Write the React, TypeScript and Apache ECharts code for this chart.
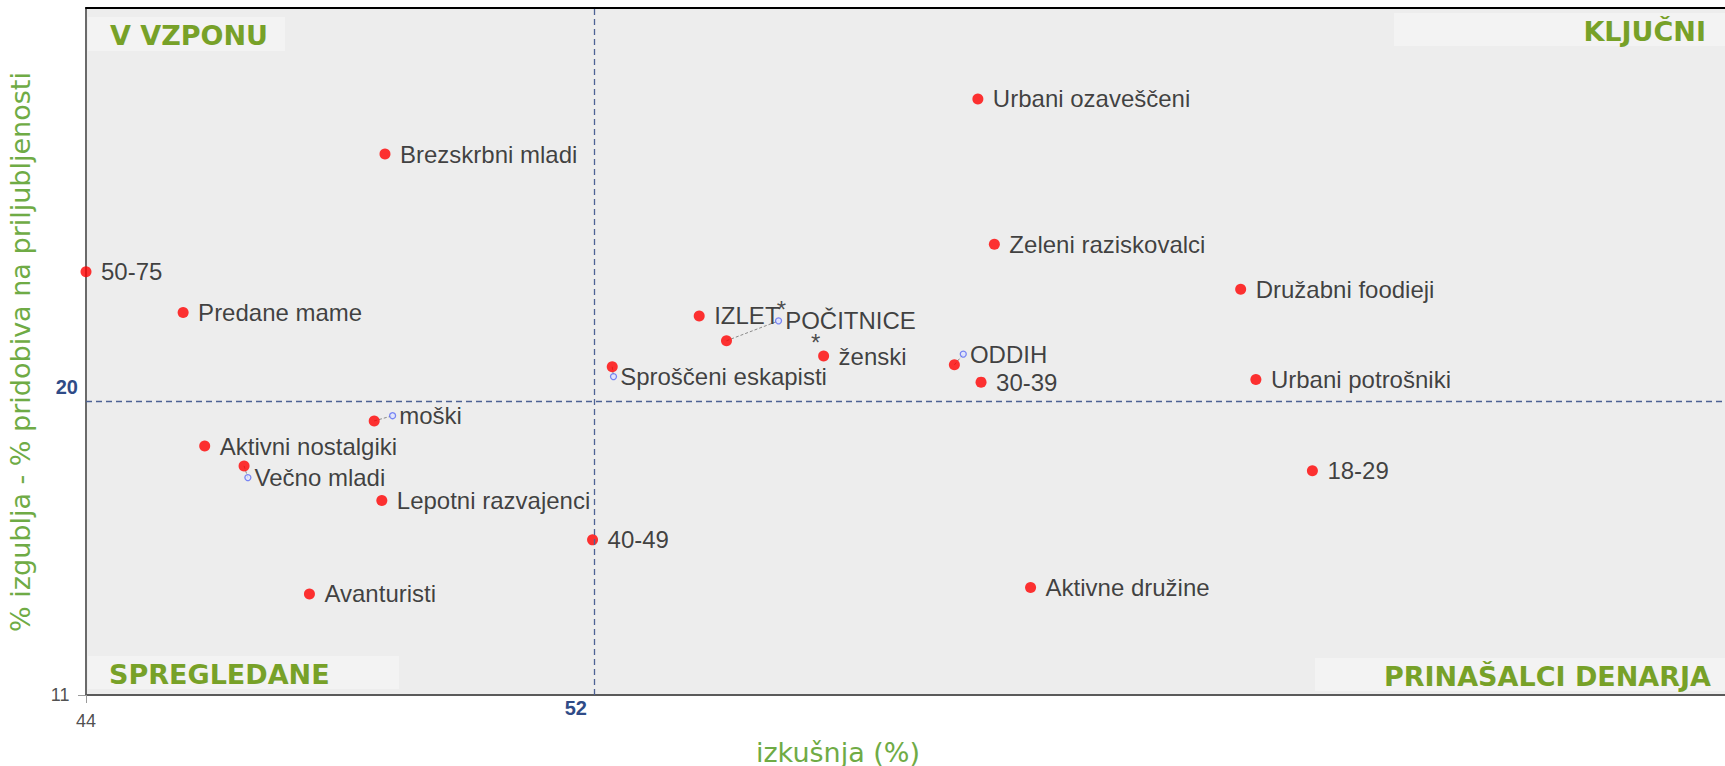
import React, { useEffect, useRef } from "react";
import * as echarts from "echarts";

// ---- data ----
const names = [
  "Urbani ozaveščeni", "Brezskrbni mladi", "Zeleni raziskovalci", "50-75", "Družabni foodieji",
  "Predane mame", "IZLET", "POČITNICE", "ženski", "ODDIH", "Sproščeni eskapisti", "30-39",
  "Urbani potrošniki", "moški", "Aktivni nostalgiki", "Večno mladi", "18-29",
  "Lepotni razvajenci", "40-49", "Aktivne družine", "Avanturisti",
];
const xValues = [
  58.05, 48.71, 58.31, 44.0, 62.19,
  45.53, 53.66, 54.09, 55.62, 57.68, 52.29, 58.1,
  62.43, 48.54, 45.87, 46.49, 63.32,
  48.66, 51.98, 58.88, 47.52,
];
const yValues = [
  29.29, 27.6, 24.83, 23.99, 23.45,
  22.74, 22.63, 21.87, 21.4, 21.13, 21.07, 20.6,
  20.68, 19.41, 18.64, 18.03, 17.88,
  16.97, 15.76, 14.3, 14.1,
];
// labels that are moved away from their point, with a leader line
const anchorNames = ["POČITNICE", "ODDIH", "Sproščeni eskapisti", "moški", "Večno mladi"];
const anchorX = [54.91, 57.82, 52.31, 48.83, 46.55];
const anchorY = [22.48, 21.46, 20.77, 19.57, 17.67];
// significance marks
const starredNames = ["POČITNICE", "ženski"];

const xMin = 44;
const xMax = 69.82;
const yMin = 11;
const yMax = 32.08;
const xMean = 52;
const yMean = 20;

const quadrantNames = ["V VZPONU", "KLJUČNI", "SPREGLEDANE", "PRINAŠALCI DENARJA"];
const xTitle = "izkušnja (%)";
const yTitle = "% izgublja - % pridobiva na priljubljenosti";

const GREEN = "#77a128";
const TITLE_GREEN = "#6fab45";
const BLUE = "#2f4b87";

export default function App() {
  const ref = useRef<HTMLDivElement>(null);

  useEffect(() => {
    if (!ref.current) return;
    const chart = echarts.init(ref.current, undefined, { renderer: "svg" });

    const idx = (n: string) => names.indexOf(n);

    const redData = names.map((n, i) => ({
      name: n,
      value: [xValues[i], yValues[i]],
      label: { show: anchorNames.indexOf(n) < 0 },
    }));
    const anchorData = anchorNames.map((n, i) => ({ name: n, value: [anchorX[i], anchorY[i]] }));
    const leaderData = anchorNames.map((n, i) => ({
      coords: [
        [xValues[idx(n)], yValues[idx(n)]],
        [anchorX[i], anchorY[i]],
      ],
    }));
    const starOffsets: Record<string, number[]> = { "POČITNICE": [3, -11], "ženski": [-8, -14] };
    const starData = starredNames.map((n) => {
      const a = anchorNames.indexOf(n);
      const v = a >= 0 ? [anchorX[a], anchorY[a]] : [xValues[idx(n)], yValues[idx(n)]];
      return { name: n, value: v, label: { offset: starOffsets[n] } };
    });
    // axis-minimum labels (44 on x, 11 on y), anchored at the axes' origin
    const minLabelData = [
      { name: String(xMin), value: [xMin, yMin], label: { position: "bottom", distance: 16 } },
      { name: String(yMin), value: [xMin, yMin], label: { position: "left", distance: 16 } },
    ];

    const labelFont = "Liberation Sans";
    const quadFont = 'bold 27px "DejaVu Sans", Verdana, sans-serif';

    const option: any = {
      animation: false,
      backgroundColor: "#ffffff",
      grid: {
        left: 86, right: 0, top: 8, bottom: 71,
        show: true, backgroundColor: "#ededed", borderWidth: 0,
      },
      xAxis: [
        {
          type: "value", min: xMin, max: xMax, position: "bottom",
          splitLine: { show: false },
          axisLine: { show: true, onZero: false, lineStyle: { color: "#5a5a5a", width: 2 } },
          axisTick: { show: true, customValues: [xMin], length: 8, lineStyle: { color: "#9a9a9a", width: 1 } },
          axisLabel: { show: false },
        },
        {
          type: "value", min: xMin, max: xMax, position: "top",
          splitLine: { show: false },
          axisLine: { show: true, onZero: false, lineStyle: { color: "#000", width: 2 } },
          axisTick: { show: false },
          axisLabel: { show: false },
        },
      ],
      yAxis: {
        type: "value", min: yMin, max: yMax,
        splitLine: { show: false },
        axisLine: { show: true, onZero: false, lineStyle: { color: "#6a6a6a", width: 2 } },
        axisTick: { show: true, customValues: [yMin], length: 8, lineStyle: { color: "#9a9a9a", width: 1 } },
        axisLabel: { show: false },
      },
      graphic: [
        { type: "rect", z: 1, shape: { x: 88, y: 17, width: 197, height: 34 }, style: { fill: "#f3f3f3" } },
        { type: "rect", z: 1, shape: { x: 1394, y: 13, width: 331, height: 33 }, style: { fill: "#f3f3f3" } },
        { type: "rect", z: 1, shape: { x: 88, y: 656, width: 311, height: 33 }, style: { fill: "#f3f3f3" } },
        { type: "rect", z: 1, shape: { x: 1315, y: 658, width: 410, height: 33 }, style: { fill: "#f3f3f3" } },
        { type: "text", z: 2, x: 110, y: 35, style: { text: quadrantNames[0], font: quadFont, fill: GREEN, align: "left", verticalAlign: "middle" } },
        { type: "text", z: 2, x: 1706, y: 31, style: { text: quadrantNames[1], font: quadFont, fill: GREEN, align: "right", verticalAlign: "middle" } },
        { type: "text", z: 2, x: 109, y: 674, style: { text: quadrantNames[2], font: quadFont, fill: GREEN, align: "left", verticalAlign: "middle" } },
        { type: "text", z: 2, x: 1711, y: 676, style: { text: quadrantNames[3], font: quadFont, fill: GREEN, align: "right", verticalAlign: "middle" } },
        { type: "text", z: 2, x: 838, y: 752, style: { text: xTitle, font: '27px "DejaVu Sans", Verdana, sans-serif', fill: TITLE_GREEN, align: "center", verticalAlign: "middle" } },
        { type: "text", z: 2, x: 20, y: 352, rotation: Math.PI / 2, style: { text: yTitle, font: '27px "DejaVu Sans", Verdana, sans-serif', fill: TITLE_GREEN, align: "center", verticalAlign: "middle" } },
      ],
      series: [
        {
          type: "lines",
          coordinateSystem: "cartesian2d",
          z: 3,
          silent: true,
          lineStyle: { color: "#8a8a8a", width: 1, type: [3, 2], opacity: 1 },
          data: leaderData,
        },
        {
          type: "scatter",
          name: "points",
          z: 4,
          clip: false,
          symbol: "circle",
          symbolSize: 11,
          itemStyle: { color: "#ff0000" },
          label: {
            show: true, position: "right", distance: 9.5,
            formatter: "{b}", fontSize: 24, color: "#111", fontFamily: labelFont,
          },
          data: redData,
          markLine: {
            silent: true,
            symbol: "none",
            lineStyle: { color: "#4d6294", width: 1.3, type: [6, 4] },
            label: {
              show: true, position: "start",
              fontSize: 20, fontWeight: "bold", color: BLUE, fontFamily: labelFont,
            },
            data: [
              {
                xAxis: xMean,
                label: { formatter: String(xMean), distance: 3, padding: [0, 36, 0, 0] },
              },
              {
                yAxis: yMean,
                label: { formatter: String(yMean) + "\n ", distance: 8, lineHeight: 29 },
              },
            ],
          },
        },
        {
          type: "scatter",
          name: "anchors",
          z: 5,
          symbol: "circle",
          symbolSize: 6,
          itemStyle: { color: "#dde2ff", borderColor: "#5b6cf2", borderWidth: 1.3 },
          label: {
            show: true, position: "right", distance: 3,
            formatter: "{b}", fontSize: 24, color: "#111", fontFamily: labelFont,
          },
          data: anchorData,
        },
        {
          type: "scatter",
          name: "stars",
          z: 6,
          symbolSize: 1,
          itemStyle: { color: "rgba(0,0,0,0)" },
          label: {
            show: true, position: "inside",
            formatter: "*", fontSize: 24, color: "#222", fontFamily: labelFont,
          },
          data: starData,
        },
        {
          type: "scatter",
          name: "axisMin",
          z: 6,
          clip: false,
          silent: true,
          symbolSize: 1,
          itemStyle: { color: "rgba(0,0,0,0)" },
          label: {
            show: true,
            formatter: "{b}", fontSize: 18, color: "#222", fontFamily: labelFont,
          },
          data: minLabelData,
        },
      ],
    };

    chart.setOption(option);
    return () => chart.dispose();
  }, []);

  return (
    <div
      ref={ref}
      style={{ position: "fixed", left: 0, top: 0, width: 1725, height: 766, background: "#fff" }}
    />
  );
}
